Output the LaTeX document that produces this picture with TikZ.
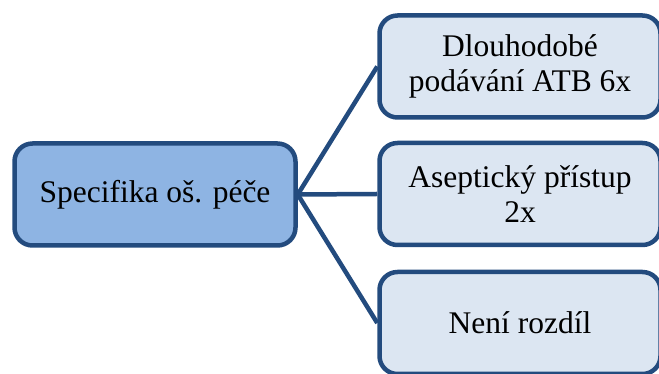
\documentclass[tikz,border=0pt]{standalone}
\usepackage{fontspec}
\setmainfont{Liberation Serif}
\definecolor{frameblue}{HTML}{234B7E}
\definecolor{rootfill}{HTML}{8EB4E3}
\definecolor{leaffill}{HTML}{DCE6F2}
\begin{document}
\begin{tikzpicture}[x=1pt,y=1pt,
  card/.style={draw=frameblue, line width=4.5pt, rounded corners=18pt,
    minimum width=281pt, minimum height=102pt, align=center,
    font=\fontsize{31.5}{35}\selectfont, inner sep=0pt},
  rootcard/.style={card, fill=rootfill},
  leafcard/.style={card, fill=leaffill},
  link/.style={draw=frameblue, line width=4.5pt}]
  \clip (0,0) rectangle (659,374);
  \useasboundingbox (0,0) rectangle (659,374);
  \node[rootcard] (root) at (155,179.5) {Specifika oš. péče};
  \node[leafcard] (a) at (520,307.5) {Dlouhodobé\\podávání ATB 6x};
  \node[leafcard] (b) at (520,180) {Aseptický přístup\\2x};
  \node[leafcard] (c) at (520,51) {Není rozdíl};
  \draw[link] (root.east) -- (a.west);
  \draw[link] (root.east) -- (b.west);
  \draw[link] (root.east) -- (c.west);
\end{tikzpicture}
\end{document}
